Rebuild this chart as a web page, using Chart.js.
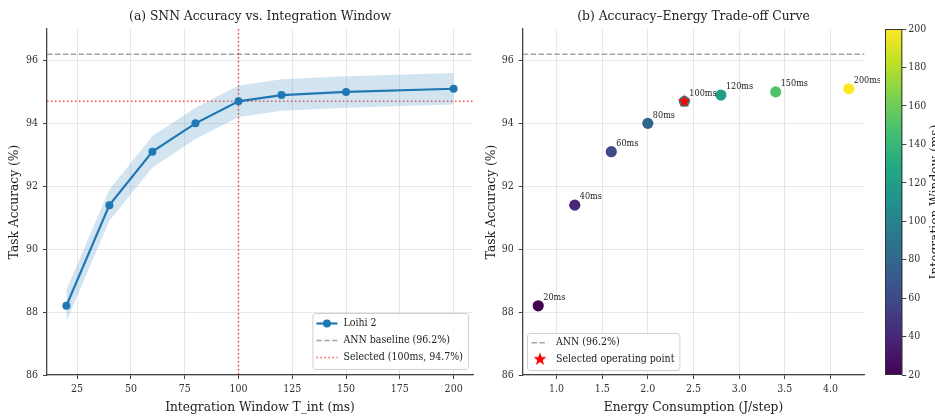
<!DOCTYPE html>
<html>
<head>
<meta charset="utf-8">
<script src="https://cdn.jsdelivr.net/npm/chart.js@4.4.0/dist/chart.umd.min.js"></script>
<style>
  body { margin: 0; background: #fff; width: 935px; height: 417px; overflow: hidden; position: relative; }
  canvas { position: absolute; top: 0; }
</style>
</head>
<body>
<canvas id="accChart" width="480" height="417" style="left:0"></canvas>
<canvas id="energyChart" width="400" height="417" style="left:480px"></canvas>
<canvas id="cbarChart" width="55" height="417" style="left:880px"></canvas>
<script>
// dados
const windows = [20, 40, 60, 80, 100, 120, 150, 200];
const accuracy = [88.2, 91.4, 93.1, 94.0, 94.7, 94.9, 95.0, 95.1];
const bandLow = [87.7, 90.9, 92.6, 93.5, 94.2, 94.4, 94.5, 94.6];
const bandHigh = [88.7, 91.9, 93.6, 94.5, 95.2, 95.4, 95.5, 95.6];
const energy = [0.8, 1.2, 1.6, 2.0, 2.4, 2.8, 3.4, 4.2];
const annBaseline = 96.2;
const selWindow = 100;
const selEnergy = 2.4;
const selAcc = 94.7;

const windowTicks = [25, 50, 75, 100, 125, 150, 175, 200];
const energyTicks = [1.0, 1.5, 2.0, 2.5, 3.0, 3.5, 4.0];
const accTicks = [86, 88, 90, 92, 94, 96];
const cbarTicks = [20, 40, 60, 80, 100, 120, 140, 160, 180, 200];

const FONT = "'DejaVu Serif Condensed', 'DejaVu Serif', serif";
const BLUE = '#1f77b4';
const GRAY = 'rgba(128,128,128,0.7)';
const RED = 'rgba(255,0,0,0.7)';
const TICK_SIZE = 10.5;
const LABEL_SIZE = 13.6;

// viridis
const viridisStops = ['#440154', '#482475', '#414487', '#355f8d', '#2a788e', '#21918c',
                      '#22a884', '#44bf70', '#7ad151', '#bddf26', '#fde725'];
function hex2rgb(h) {
    return [parseInt(h.slice(1, 3), 16), parseInt(h.slice(3, 5), 16), parseInt(h.slice(5, 7), 16)];
}
function viridis(t) {
    t = Math.max(0, Math.min(1, t));
    const p = t * (viridisStops.length - 1);
    const i = Math.min(Math.floor(p), viridisStops.length - 2);
    const f = p - i;
    const a = hex2rgb(viridisStops[i]), b = hex2rgb(viridisStops[i + 1]);
    const c = a.map((v, k) => Math.round(v + (b[k] - v) * f));
    return `rgb(${c[0]},${c[1]},${c[2]})`;
}
const wMin = 20, wMax = 200;
const pointColors = windows.map(w => viridis((w - wMin) / (wMax - wMin)));

// estrela vermelha de 5 pontas
function makeStar(r) {
    const c = document.createElement('canvas');
    c.width = c.height = Math.ceil(r * 2 + 2);
    const g = c.getContext('2d');
    const cx = c.width / 2, cy = c.height / 2;
    g.beginPath();
    for (let k = 0; k < 10; k++) {
        const rr = k % 2 === 0 ? r : r * 0.4;
        const a = -Math.PI / 2 + k * Math.PI / 5;
        g.lineTo(cx + rr * Math.cos(a), cy + rr * Math.sin(a));
    }
    g.closePath();
    g.fillStyle = 'red';
    g.fill();
    return c;
}
const starImg = makeStar(7);

function hLine(chart, val, color, dash) {
    const { ctx, chartArea: a } = chart;
    const y = chart.scales.y.getPixelForValue(val);
    ctx.save();
    ctx.setLineDash(dash);
    ctx.strokeStyle = color;
    ctx.lineWidth = 1.5;
    ctx.beginPath();
    ctx.moveTo(a.left, y);
    ctx.lineTo(a.right, y);
    ctx.stroke();
    ctx.restore();
}
function vLine(chart, val, color, dash) {
    const { ctx, chartArea: a } = chart;
    const x = chart.scales.x.getPixelForValue(val);
    ctx.save();
    ctx.setLineDash(dash);
    ctx.strokeStyle = color;
    ctx.lineWidth = 1.5;
    ctx.beginPath();
    ctx.moveTo(x, a.top);
    ctx.lineTo(x, a.bottom);
    ctx.stroke();
    ctx.restore();
}
function drawTitle(chart, text) {
    const { ctx, chartArea: a } = chart;
    ctx.save();
    ctx.font = `13.7px ${FONT}`;
    ctx.fillStyle = '#222';
    ctx.textAlign = 'center';
    ctx.textBaseline = 'middle';
    ctx.fillText(text, (a.left + a.right) / 2, 16);
    ctx.restore();
}
function legendBox(ctx, x, y, w, h) {
    ctx.save();
    ctx.fillStyle = 'rgba(255,255,255,0.8)';
    ctx.strokeStyle = '#d0d0d0';
    ctx.lineWidth = 1;
    ctx.beginPath();
    ctx.roundRect(x + 0.5, y + 0.5, w, h, 3);
    ctx.fill();
    ctx.stroke();
    ctx.restore();
}

function scaleCfg(ticksArr, min, max, title, fmt, isX, titlePad) {
    return {
        type: 'linear',
        min: min,
        max: max,
        afterBuildTicks: s => { s.ticks = ticksArr.map(v => ({ value: v })); },
        afterFit: s => { if (isX) s.height = 42; },
        grid: { color: 'rgba(0,0,0,0.09)', lineWidth: 1, tickColor: '#444', tickLength: 4 },
        border: { color: '#444', width: 1.3 },
        ticks: {
            font: { family: FONT, size: TICK_SIZE },
            color: '#333',
            padding: isX ? 4 : 5,
            maxRotation: 0,
            callback: fmt
        },
        title: {
            display: true,
            text: title,
            font: { family: FONT, size: LABEL_SIZE },
            color: '#222',
            padding: titlePad
        }
    };
}

// (a) acurácia vs janela
const accScales = {
    x: scaleCfg(windowTicks, 11, 209, 'Integration Window T_int (ms)', v => v, true, { top: 0, bottom: 1 }),
    y: scaleCfg(accTicks, 86, 97, 'Task Accuracy (%)', v => v, false, { top: 6, bottom: 0 })
};
accScales.y.afterFit = s => { s.width = 47; };

new Chart(document.getElementById('accChart'), {
    type: 'line',
    data: {
        datasets: [
            {
                label: 'Loihi 2',
                data: windows.map((w, i) => ({ x: w, y: accuracy[i] })),
                borderColor: BLUE,
                backgroundColor: BLUE,
                borderWidth: 2.2,
                pointRadius: 4,
                pointBackgroundColor: BLUE,
                pointBorderWidth: 0,
                fill: false
            },
            {
                label: 'upper',
                data: windows.map((w, i) => ({ x: w, y: bandHigh[i] })),
                borderWidth: 0,
                pointRadius: 0,
                backgroundColor: 'rgba(31,119,180,0.2)',
                fill: '+1'
            },
            {
                label: 'lower',
                data: windows.map((w, i) => ({ x: w, y: bandLow[i] })),
                borderWidth: 0,
                pointRadius: 0,
                fill: false
            }
        ]
    },
    options: {
        responsive: false,
        animation: false,
        devicePixelRatio: 1,
        layout: { padding: { left: 0, top: 29, right: 7, bottom: 0 } },
        scales: accScales,
        plugins: { legend: { display: false }, tooltip: { enabled: false } }
    },
    plugins: [{
        id: 'refLinesA',
        beforeDatasetsDraw(chart) {
            hLine(chart, annBaseline, GRAY, [5.5, 2.4]);
            hLine(chart, selAcc, RED, [1.5, 2.5]);
            vLine(chart, selWindow, RED, [1.5, 2.5]);
        },
        afterDraw(chart) {
            drawTitle(chart, '(a) SNN Accuracy vs. Integration Window');
            const { ctx, chartArea: a } = chart;
            const items = ['Loihi 2', 'ANN baseline (96.2%)', 'Selected (100ms, 94.7%)'];
            ctx.save();
            ctx.font = `10.5px ${FONT}`;
            const tw = Math.max(...items.map(t => ctx.measureText(t).width));
            const w = 31 + tw + 5, h = 56;
            const bx = a.right - 5 - w, by = a.bottom - 6 - h;
            legendBox(ctx, bx, by, w, h);
            items.forEach((t, i) => {
                const cy = by + 10.5 + i * 17;
                ctx.save();
                ctx.lineWidth = i === 0 ? 2.2 : 1.5;
                ctx.strokeStyle = [BLUE, GRAY, RED][i];
                ctx.setLineDash([[], [5.5, 2.4], [1.5, 2.5]][i]);
                ctx.beginPath();
                ctx.moveTo(bx + 4, cy);
                ctx.lineTo(bx + 25, cy);
                ctx.stroke();
                if (i === 0) {
                    ctx.fillStyle = BLUE;
                    ctx.beginPath();
                    ctx.arc(bx + 14.5, cy, 4, 0, Math.PI * 2);
                    ctx.fill();
                }
                ctx.restore();
                ctx.fillStyle = '#222';
                ctx.textBaseline = 'middle';
                ctx.fillText(t, bx + 31, cy);
            });
            ctx.restore();
        }
    }]
});

// (b) acurácia vs energia
const enScales = {
    x: scaleCfg(energyTicks, 0.63, 4.37, 'Energy Consumption (J/step)', v => v.toFixed(1), true, { top: 0, bottom: 1 }),
    y: scaleCfg(accTicks, 86, 97, 'Task Accuracy (%)', v => v, false, { top: 3, bottom: 0 })
};
enScales.y.afterFit = s => { s.width = 42.7; };

new Chart(document.getElementById('energyChart'), {
    type: 'scatter',
    data: {
        datasets: [
            {
                label: 'Selected operating point',
                data: [{ x: selEnergy, y: selAcc }],
                pointStyle: starImg,
                pointRadius: 7
            },
            {
                label: 'points',
                data: energy.map((e, i) => ({ x: e, y: accuracy[i] })),
                pointBackgroundColor: pointColors,
                pointBorderWidth: 0,
                pointRadius: 5.6
            }
        ]
    },
    options: {
        responsive: false,
        animation: false,
        devicePixelRatio: 1,
        layout: { padding: { left: 0, top: 29, right: 15.7, bottom: 0 } },
        scales: enScales,
        plugins: { legend: { display: false }, tooltip: { enabled: false } }
    },
    plugins: [{
        id: 'refLinesB',
        beforeDatasetsDraw(chart) {
            hLine(chart, annBaseline, GRAY, [5.5, 2.4]);
        },
        afterDraw(chart) {
            drawTitle(chart, '(b) Accuracy\u2013Energy Trade-off Curve');
            const { ctx, chartArea: a } = chart;
            ctx.save();
            ctx.font = `9px ${FONT}`;
            ctx.fillStyle = '#222';
            ctx.textBaseline = 'middle';
            windows.forEach((w, i) => {
                const px = chart.scales.x.getPixelForValue(energy[i]);
                const py = chart.scales.y.getPixelForValue(accuracy[i]);
                ctx.fillText(`${w}ms`, px + 5, py - 8);
            });
            const items = ['ANN (96.2%)', 'Selected operating point'];
            ctx.font = `10.5px ${FONT}`;
            const tw = Math.max(...items.map(t => ctx.measureText(t).width));
            const w = 29 + tw + 5, h = 37;
            const bx = a.left + 4.3, by = a.bottom - 5 - h;
            legendBox(ctx, bx, by, w, h);
            let cy = by + 9.7;
            ctx.save();
            ctx.strokeStyle = GRAY;
            ctx.lineWidth = 1.5;
            ctx.setLineDash([5.5, 2.4]);
            ctx.beginPath();
            ctx.moveTo(bx + 4.5, cy);
            ctx.lineTo(bx + 20.5, cy);
            ctx.stroke();
            ctx.restore();
            ctx.fillStyle = '#222';
            ctx.fillText(items[0], bx + 29, cy);
            cy = by + 26.3;
            ctx.drawImage(starImg, bx + 13 - starImg.width / 2, cy - starImg.height / 2);
            ctx.fillText(items[1], bx + 29, cy);
            ctx.restore();
        }
    }]
});

// barra de cores
new Chart(document.getElementById('cbarChart'), {
    type: 'scatter',
    data: { datasets: [] },
    options: {
        responsive: false,
        animation: false,
        devicePixelRatio: 1,
        layout: { padding: { left: 5, top: 29, right: 0, bottom: 42 } },
        scales: {
            x: { display: false },
            y: {
                type: 'linear',
                position: 'right',
                min: wMin,
                max: wMax,
                afterBuildTicks: s => { s.ticks = cbarTicks.map(v => ({ value: v })); },
                afterFit: s => { s.width = 32.7; },
                grid: { drawOnChartArea: false, tickColor: '#444', tickLength: 4 },
                border: { display: false },
                ticks: { font: { family: FONT, size: TICK_SIZE }, color: '#333', padding: 2 }
            }
        },
        plugins: { legend: { display: false }, tooltip: { enabled: false } }
    },
    plugins: [{
        id: 'gradient',
        beforeDraw(chart) {
            const { ctx, chartArea: a } = chart;
            const g = ctx.createLinearGradient(0, a.bottom, 0, a.top);
            viridisStops.forEach((c, i) => g.addColorStop(i / (viridisStops.length - 1), c));
            ctx.save();
            ctx.fillStyle = g;
            ctx.fillRect(a.left, a.top, a.right - a.left, a.bottom - a.top);
            ctx.strokeStyle = '#333';
            ctx.lineWidth = 1;
            ctx.strokeRect(a.left + 0.5, a.top + 0.5, a.right - a.left - 1, a.bottom - a.top - 1);
            ctx.restore();
        },
        afterDraw(chart) {
            const { ctx, chartArea: a } = chart;
            ctx.save();
            ctx.translate(59, (a.top + a.bottom) / 2);
            ctx.rotate(-Math.PI / 2);
            ctx.font = `${LABEL_SIZE}px ${FONT}`;
            ctx.fillStyle = '#222';
            ctx.textAlign = 'center';
            ctx.fillText('Integration Window (ms)', 0, 0);
            ctx.restore();
        }
    }]
});
</script>
</body>
</html>
